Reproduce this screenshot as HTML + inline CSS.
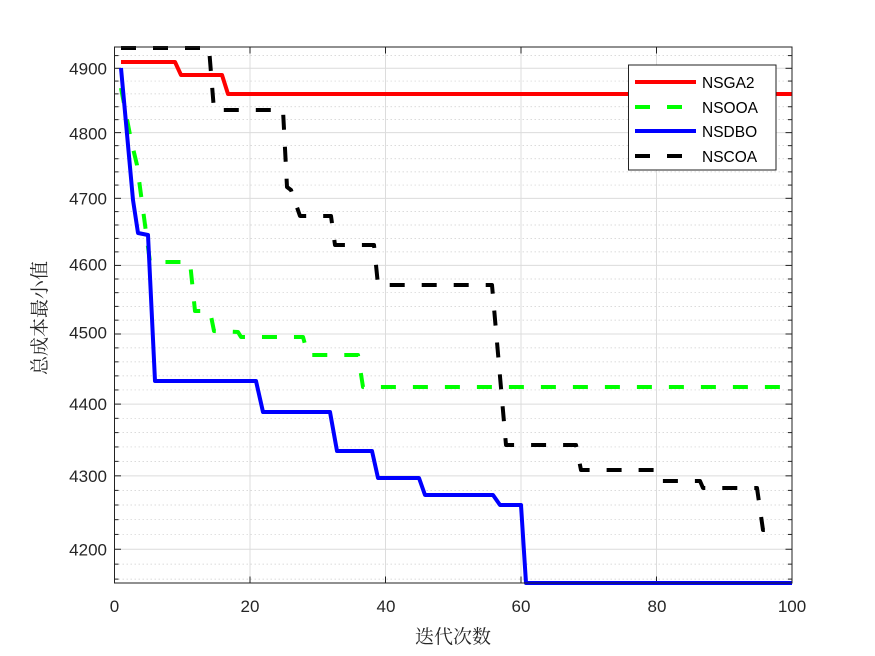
<!DOCTYPE html>
<html><head><meta charset="utf-8"><style>
html,body{margin:0;padding:0;background:#fff;}
svg{display:block;}
</style></head><body>
<svg width="875" height="656" viewBox="0 0 875 656" xmlns="http://www.w3.org/2000/svg">
<rect width="875" height="656" fill="#fff"/>
<rect x="114.5" y="47" width="677.5" height="536" fill="#fff"/>
<g id="minor"></g>
<g id="grid"></g>
<script>
(function(){
var ns="http://www.w3.org/2000/svg";
function ln(p,x1,y1,x2,y2,st,w,da){var l=document.createElementNS(ns,"line");l.setAttribute("x1",x1);l.setAttribute("y1",y1);l.setAttribute("x2",x2);l.setAttribute("y2",y2);l.setAttribute("stroke",st);l.setAttribute("stroke-width",w);if(da)l.setAttribute("stroke-dasharray",da);p.appendChild(l);}
var g=document.getElementById("grid"),m=document.getElementById("minor");
function Y(v){return 68.3+3120*Math.log(4900/v);}
for(var v=4160;v<=4920;v+=20){var y=Y(v);if(y<47||y>583)continue;
 if(v%100==0){ln(g,114.5,y,792,y,"#dcdcdc",1);ln(g,114.5,y,121,y,"#222",1);ln(g,792,y,785.5,y,"#222",1);}
 else{ln(m,114.5,y,792,y,"#cfcfcf",0.7,"1.5 2.5");ln(g,114.5,y,118.5,y,"#222",1);ln(g,792,y,788,y,"#222",1);}}
for(var i=20;i<100;i+=20){var x=114.5+i*6.775;ln(g,x,47,x,583,"#dcdcdc",1);ln(g,x,583,x,576.5,"#222",1);ln(g,x,47,x,53.5,"#222",1);}
})();
</script>
<g fill="none" stroke-width="4" stroke-linejoin="round">
<polyline stroke="#f00" points="121,62 175,62 181,75 222,75 228,94 792,94"/>
<polyline stroke="#00ff00" stroke-dasharray="15 17" points="121,88 131,140 137,165 150,262 190,262 195,311 210,311 214,331 238,332 241,337 303,337 308,355 358,355 363,387 792,387"/>
<polyline stroke="#00f" points="121,68 133,200 138,233 148,235 155,381 256,381 263,412 330,412 337,451 372,451 378,478 419,478 425,495 493,495 500,505 521,505 526,583 792,583"/>
<polyline stroke="#000" stroke-dasharray="15 17" points="121,48 209,48 214,110 283,110 287,187 291,190 300,216 331,216 335,245 374,245 378,285 492,285 506,445 576,445 581,470 656,470 660,481 700,481 703,488 757,488 763,530 777,530"/>
</g>
<rect x="114.5" y="47" width="677.5" height="536" fill="none" stroke="#222" stroke-width="1"/>
<g font-family="Liberation Sans, Arial, sans-serif" font-size="17" fill="#262626">
<g text-anchor="end">
<text x="107" y="74.3">4900</text><text x="107" y="139.3">4800</text><text x="107" y="204.3">4700</text><text x="107" y="270.7">4600</text><text x="107" y="338.7">4500</text><text x="107" y="410.1">4400</text><text x="107" y="482">4300</text><text x="107" y="555.3">4200</text>
</g>
<g text-anchor="middle">
<text x="114.5" y="612">0</text><text x="250" y="612">20</text><text x="386" y="612">40</text><text x="521" y="612">60</text><text x="657" y="612">80</text><text x="792" y="612">100</text>
</g>
</g>
<text x="453" y="643" text-anchor="middle" font-family="Liberation Serif, 'Noto Serif CJK SC', serif" font-size="19" fill="#262626">迭代次数</text>
<text transform="translate(46,318) rotate(-90)" text-anchor="middle" font-family="Liberation Serif, 'Noto Serif CJK SC', serif" font-size="19" fill="#262626">总成本最小值</text>
<rect x="628.5" y="65" width="147.5" height="105" fill="#fff" stroke="#222" stroke-width="1"/>
<g stroke-width="4">
<line x1="635" y1="82" x2="696" y2="82" stroke="#f00"/>
<line x1="635" y1="107" x2="696" y2="107" stroke="#00ff00" stroke-dasharray="15 17"/>
<line x1="635" y1="131" x2="696" y2="131" stroke="#00f"/>
<line x1="635" y1="156" x2="696" y2="156" stroke="#000" stroke-dasharray="15 17"/>
</g>
<g font-family="Liberation Sans, Arial, sans-serif" font-size="15.5" fill="#000">
<text x="702" y="88">NSGA2</text><text x="702" y="113">NSOOA</text><text x="702" y="137">NSDBO</text><text x="702" y="162">NSCOA</text>
</g>
</svg>
</body></html>
